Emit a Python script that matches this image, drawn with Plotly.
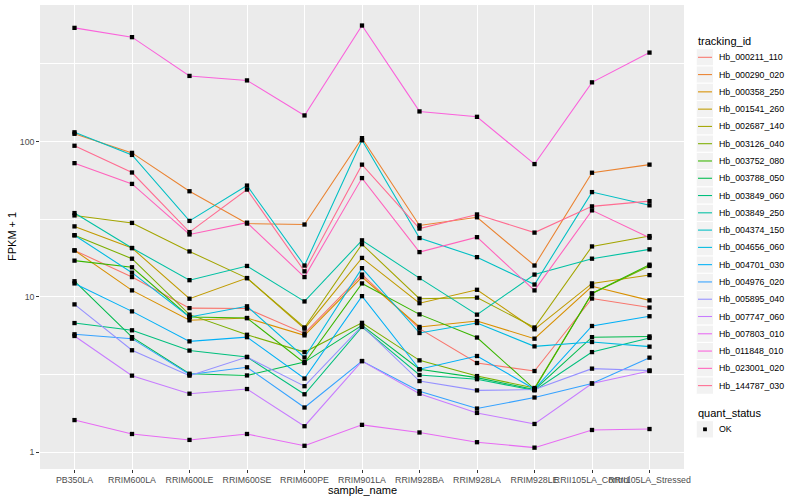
import plotly.graph_objects as go

categories = ["PB350LA", "RRIM600LA", "RRIM600LE", "RRIM600SE", "RRIM600PE", "RRIM901LA",
              "RRIM928BA", "RRIM928LA", "RRIM928LE", "RRII105LA_Control", "RRII105LA_Stressed"]

tracking_ids = ["Hb_000211_110", "Hb_000290_020", "Hb_000358_250", "Hb_001541_260", "Hb_002687_140",
                "Hb_003126_040", "Hb_003752_080", "Hb_003788_050", "Hb_003849_060", "Hb_003849_250",
                "Hb_004374_150", "Hb_004656_060", "Hb_004701_030", "Hb_004976_020", "Hb_005895_040",
                "Hb_007747_060", "Hb_007803_010", "Hb_011848_010", "Hb_023001_020", "Hb_144787_030"]

colors = ["#F8766D", "#EA8331", "#D89000", "#C09B00", "#A3A500", "#7CAE00", "#39B600", "#00BB4E",
          "#00BF7D", "#00C1A3", "#00BFC4", "#00BAE0", "#00B0F6", "#35A2FF", "#9590FF", "#C77CFF",
          "#E76BF3", "#FA62DB", "#FF62BC", "#FF6C91"]

# FPKM + 1 values per gene, in category order
hb_000211_110 = [19.9, 13.4, 8.46, 8.4, 5.81, 13.9, 6.24, 3.75, 3.33, 9.75, 8.53]
hb_000290_020 = [112, 84.4, 47.8, 29.6, 29.2, 105, 28.8, 32.5, 15.9, 62.9, 70.9]
hb_000358_250 = [19.9, 11.0, 7.06, 7.3, 5.65, 13.4, 6.4, 6.98, 5.38, 11.7, 9.49]
hb_001541_260 = [28.4, 20.6, 9.72, 13.2, 6.24, 17.8, 9.1, 11.1, 6.18, 12.2, 13.8]
hb_002687_140 = [33.4, 29.9, 19.6, 13.2, 6.35, 21.8, 9.72, 9.88, 6.35, 21.1, 24.6]
hb_003126_040 = [24.9, 17.6, 7.68, 5.7, 4.41, 6.8, 3.9, 3.09, 2.59, 10.5, 15.8]
hb_003752_080 = [17.1, 15.5, 7.42, 7.3, 3.75, 12.2, 7.71, 5.47, 2.55, 10.5, 16.1]
hb_003788_050 = [12.6, 5.5, 3.2, 3.12, 3.8, 6.56, 3.42, 3.02, 2.53, 5.5, 5.56]
hb_003849_060 = [6.78, 6.09, 4.51, 4.10, 2.36, 6.4, 3.14, 2.95, 2.5, 4.41, 5.44]
hb_003849_250 = [34.6, 20.6, 12.8, 15.8, 9.34, 23.1, 13.2, 7.68, 13.9, 17.6, 20.2]
hb_004374_150 = [114.5, 81.9, 30.8, 52.0, 15.9, 101.7, 23.9, 18.0, 12.0, 47.2, 38.8]
hb_004656_060 = [24.9, 14.3, 7.42, 8.69, 4.07, 15.3, 5.85, 6.78, 4.8, 5.12, 4.78]
hb_004701_030 = [12.2, 8.06, 5.17, 5.5, 2.98, 10.1, 3.42, 4.16, 2.55, 6.49, 7.5]
hb_004976_020 = [5.74, 5.38, 3.16, 3.52, 1.94, 3.86, 2.47, 1.91, 2.25, 2.77, 4.06]
hb_005895_040 = [8.94, 4.53, 3.11, 4.10, 2.66, 6.5, 2.87, 2.50, 2.53, 3.45, 3.36]
hb_007747_060 = [5.6, 3.11, 2.38, 2.55, 1.47, 3.86, 2.38, 1.79, 1.52, 2.77, 3.33]
hb_007803_010 = [1.61, 1.31, 1.20, 1.31, 1.10, 1.50, 1.34, 1.16, 1.07, 1.39, 1.41]
hb_011848_010 = [538, 469, 264, 247, 147, 557, 156, 144, 71.5, 240, 373]
hb_023001_020 = [72.5, 53.3, 25.2, 30.0, 13.4, 58.1, 19.4, 24.2, 11.0, 36.0, 24.0]
hb_144787_030 = [93.8, 63.1, 26.1, 49.0, 14.6, 70.9, 27.5, 33.9, 25.9, 38.2, 41.3]

quant_status = ["OK"]
y_tick_vals = [1, 10, 100]
y_tick_text = ["1", "10", "100"]

series = [hb_000211_110, hb_000290_020, hb_000358_250, hb_001541_260, hb_002687_140,
          hb_003126_040, hb_003752_080, hb_003788_050, hb_003849_060, hb_003849_250,
          hb_004374_150, hb_004656_060, hb_004701_030, hb_004976_020, hb_005895_040,
          hb_007747_060, hb_007803_010, hb_011848_010, hb_023001_020, hb_144787_030]

FONT = "Liberation Sans, Arial, sans-serif"
W, H = 800, 500
ML, MR, MT, MB = 40, 116, 5, 31
PW, PH = W - ML - MR, H - MT - MB


def px(x):
    return (x - ML) / PW


def py(y):
    return (H - MB - y) / PH


fig = go.Figure()

for name, vals, col in zip(tracking_ids, series, colors):
    fig.add_trace(go.Scatter(x=categories, y=vals, mode="lines", name=name,
                             line=dict(color=col, width=1.07), showlegend=False,
                             hoverinfo="skip"))

all_x, all_y = [], []
for vals in series:
    all_x += categories
    all_y += vals
fig.add_trace(go.Scatter(x=all_x, y=all_y, mode="markers", name=quant_status[0],
                         marker=dict(symbol="square", size=4.3, color="black", line=dict(width=0)),
                         showlegend=False))

shapes = []
annotations = []

# legend: tracking_id
annotations.append(dict(x=px(696), y=py(40.7), xref="paper", yref="paper", text="tracking_id",
                        showarrow=False, xanchor="left", yanchor="middle",
                        font=dict(family=FONT, size=11, color="black")))
KEY = 17.28
y0 = 57.3
for i, (name, col) in enumerate(zip(tracking_ids, colors)):
    cy = y0 + KEY * i
    shapes.append(dict(type="rect", xref="paper", yref="paper",
                       x0=px(696.2), x1=px(696.2 + KEY), y0=py(cy - KEY / 2), y1=py(cy + KEY / 2),
                       fillcolor="#F2F2F2", line=dict(color="white", width=1), layer="above"))
    shapes.append(dict(type="line", xref="paper", yref="paper",
                       x0=px(698), x1=px(712), y0=py(cy), y1=py(cy),
                       line=dict(color=col, width=1.07), layer="above"))
    annotations.append(dict(x=px(716.5), y=py(cy), xref="paper", yref="paper", text=name,
                            showarrow=False, xanchor="left", yanchor="middle",
                            font=dict(family=FONT, size=8.8, color="black")))

# legend: quant_status
annotations.append(dict(x=px(696), y=py(412.7), xref="paper", yref="paper", text="quant_status",
                        showarrow=False, xanchor="left", yanchor="middle",
                        font=dict(family=FONT, size=11, color="black")))
cy = 429.3
shapes.append(dict(type="rect", xref="paper", yref="paper",
                   x0=px(696.2), x1=px(696.2 + KEY), y0=py(cy - KEY / 2), y1=py(cy + KEY / 2),
                   fillcolor="#F2F2F2", line=dict(color="white", width=1), layer="above"))
shapes.append(dict(type="rect", xref="paper", yref="paper",
                   x0=px(703.1), x1=px(706.9), y0=py(cy - 1.9), y1=py(cy + 1.9),
                   fillcolor="black", line=dict(width=0), layer="above"))
annotations.append(dict(x=px(716.5), y=py(cy), xref="paper", yref="paper", text=quant_status[0],
                        showarrow=False, xanchor="left", yanchor="middle",
                        font=dict(family=FONT, size=8.8, color="black")))

# axis titles
annotations.append(dict(x=0.5, y=py(489.5), xref="paper", yref="paper", text="sample_name",
                        showarrow=False, xanchor="center", yanchor="middle",
                        font=dict(family=FONT, size=11, color="black")))
annotations.append(dict(x=px(12), y=0.5, xref="paper", yref="paper", text="FPKM + 1",
                        showarrow=False, xanchor="center", yanchor="middle", textangle=-90,
                        font=dict(family=FONT, size=11, color="black")))

fig.update_layout(
    width=W, height=H,
    margin=dict(l=ML, r=MR, t=MT, b=MB, pad=0),
    paper_bgcolor="white", plot_bgcolor="#EBEBEB",
    showlegend=False,
    shapes=shapes, annotations=annotations,
    font=dict(family=FONT, size=8.8, color="#4D4D4D"),
    xaxis=dict(type="category", categoryorder="array", categoryarray=categories,
               range=[-0.6, len(categories) - 0.4], tickangle=0,
               showgrid=True, gridcolor="white", gridwidth=1.07, zeroline=False,
               ticks="outside", ticklen=2.75, tickwidth=1.07, tickcolor="#333333",
               tickfont=dict(family=FONT, size=8.8, color="#4D4D4D"), showline=False),
    yaxis=dict(type="log", range=[-0.108, 2.878],
               tickmode="array", tickvals=y_tick_vals, ticktext=y_tick_text,
               showgrid=True, gridcolor="white", gridwidth=1.07, zeroline=False,
               ticks="outside", ticklen=2.75, tickwidth=1.07, tickcolor="#333333",
               tickfont=dict(family=FONT, size=8.8, color="#4D4D4D"), showline=False,
               minor=dict(tickmode="array", tickvals=[10 ** 0.5, 10 ** 1.5, 10 ** 2.5],
                          showgrid=True, gridcolor="white", gridwidth=0.53, ticks="")),
)

fig.write_html("out.html", config={"displayModeBar": False},
               post_script="document.body.style.margin='0px';document.body.style.overflow='hidden';")
